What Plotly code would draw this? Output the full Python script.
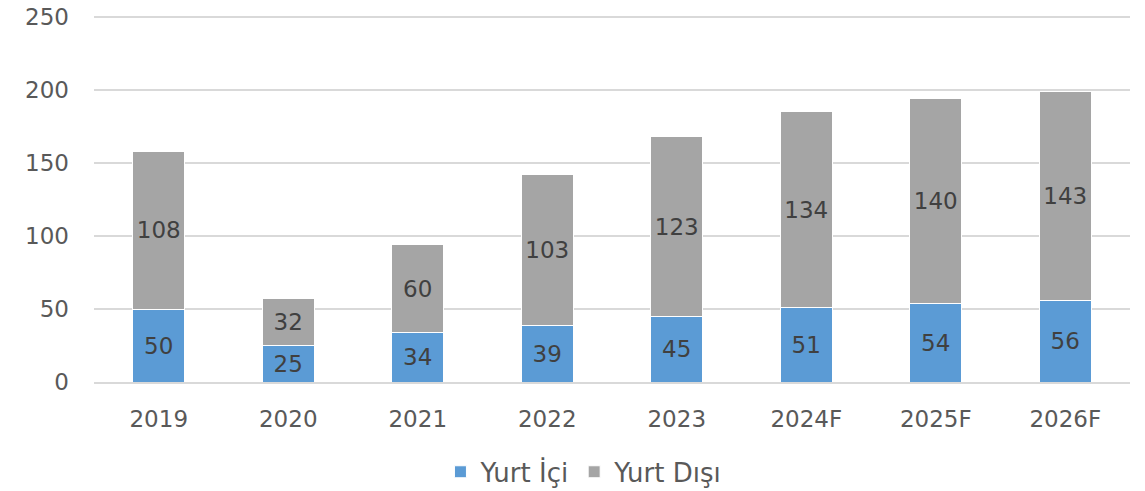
import plotly.graph_objects as go

years = ["2019", "2020", "2021", "2022", "2023", "2024F", "2025F", "2026F"]
domestic = [50, 25, 34, 39, 45, 51, 54, 56]
abroad = [108, 32, 60, 103, 123, 134, 140, 143]
y_ticks = [0, 50, 100, 150, 200, 250]

FONT = "DejaVu Sans"
TXT = "#595959"
SIZE = 23

fig = go.Figure()
fig.add_trace(go.Bar(
    x=years, y=domestic, name="Yurt İçi",
    marker=dict(color="#5B9BD5", line=dict(color="white", width=1)),
    text=[str(v) for v in domestic], textposition="inside", textangle=0,
    insidetextanchor="middle",
    textfont=dict(family=FONT, size=SIZE, color="#404040"),
))
fig.add_trace(go.Bar(
    x=years, y=abroad, name="Yurt Dışı",
    marker=dict(color="#A5A5A5", line=dict(color="white", width=1)),
    text=[str(v) for v in abroad], textposition="inside", textangle=0,
    insidetextanchor="middle",
    textfont=dict(family=FONT, size=SIZE, color="#404040"),
))

fig.update_layout(
    barmode="stack",
    bargap=0.6,
    width=1145, height=491,
    margin=dict(l=94, r=15, t=10, b=109, autoexpand=False),
    paper_bgcolor="white", plot_bgcolor="white",
    font=dict(family=FONT, size=SIZE, color=TXT),
    uniformtext=dict(mode="show", minsize=10),
    legend=dict(
        orientation="h", x=0.51, xref="container", xanchor="center",
        y=0.039, yref="container", yanchor="middle",
        font=dict(family=FONT, size=26, color=TXT),
        traceorder="normal",
    ),
    xaxis=dict(
        showline=True, linecolor="#D9D9D9", linewidth=1.5,
        ticks="", tickfont=dict(family=FONT, size=SIZE, color=TXT),
        ticklabelstandoff=16,
    ),
    yaxis=dict(
        range=[0, 254.8], tickvals=y_ticks,
        showgrid=True, gridcolor="#D9D9D9", gridwidth=1.5,
        zeroline=False, showline=False,
        tickfont=dict(family=FONT, size=SIZE, color=TXT),
        ticklabelstandoff=24,
    ),
)

fig.write_html("out.html")
